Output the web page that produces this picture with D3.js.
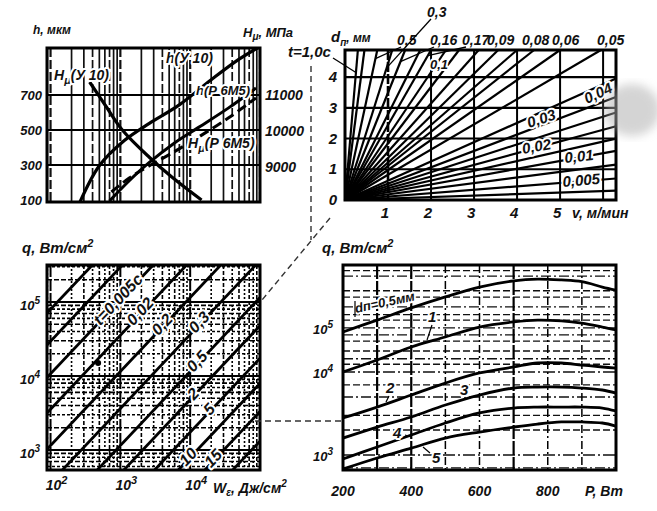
<!DOCTYPE html>
<html><head><meta charset="utf-8">
<script src="https://cdn.jsdelivr.net/npm/d3@7"></script>
<style>
body{margin:0;background:#fff}
text{font-family:"Liberation Sans Narrow","Liberation Sans",Arial,sans-serif;font-style:italic;font-weight:bold;fill:#111}
.halo{stroke:#fff;stroke-width:4px;paint-order:stroke;stroke-linejoin:round}
</style></head><body>
<svg id="c" width="657" height="511"></svg>
<script>
// ===================== DATA =====================
// Top-left panel: x = W (log, no labels); h, мкм (left) and H_μ, МПа (right)
const hTicks = [100, 300, 500, 700];
const hGrid = [300, 500, 700];
const HmuTicks = [9000, 10000, 11000];
const hU10_W = [260, 500, 1140, 2600, 6900, 20000, 49000, 94000];
const hU10 = [83, 296, 440, 538, 642, 787, 902, 971];
const HmuU10_W = [363, 632, 1067, 2575, 5460, 14550];
const HmuU10 = [11361, 10667, 10028, 9278, 8722, 8083];
const hR6M5_W = [698, 1340, 2575, 5830, 13200, 35100, 87700];
const hR6M5 = [94, 210, 313, 423, 515, 625, 740];
const HmuR6M5_W = [745, 1340, 2575, 5830, 13200, 35100, 87700];
const HmuR6M5 = [8306, 8694, 9028, 9417, 9833, 10361, 10917];

// Top-right panel: t, c vs v, м/мин; fan of lines t = k·v for various d_п
const vTicks = [1, 2, 3, 4, 5];
const vGrid = [1, 2, 3, 4, 5, 6];
const tTicks = [0, 1, 2, 3, 4];
const fanSlopes = [16.3, 10.8, 6.5, 4.44, 3.49, 2.79, 2.44, 2.08, 1.84, 1.57, 1.37, 1.22, 1.11, 0.976, 0.82,
                   0.627, 0.532, 0.452, 0.381, 0.317, 0.254, 0.183, 0.111, 0.048];
const dTopLabels = ["0,5", "0,3", "0,16", "0,17", "0,09", "0,08", "0,06", "0,05"];
const dTopLine = [2, 3, 4, 6, 10, 12, 13, 14];
const dTopLeaderT = [4.6, 4.3, 4.5, 4.7, null, null, null, null];
const dInnerLabels = ["0,1", "0,04", "0,03", "0,02", "0,01", "0,005"];

// Bottom-left panel: q, Вт/см² vs W_ε, Дж/см²; lines q = r·W for times t
const qTicksBL = [1e3, 1e4, 1e5];
const wTicks = [1e2, 1e3, 1e4];
const diagRatio = [794, 295, 107, 35.5, 11.5, 3.63, 1.15, 0.479, 0.174, 0.0794, 0.0331, 0.0132];
const diagLabels = ["", "", "t=0,005c", "0,02", "0,2", "0,3", "0,5", "2", "5", "10", "15", ""];

// Bottom-right panel: q, Вт/см² vs P, Вт for d_п
const pTicks = [200, 400, 600, 800];
const pGrid = [300, 400, 500, 600, 700, 800, 900];
const qTicksBR = [1e3, 1e4, 1e5];
const qGridBR = [700, 2e3, 3e3, 5e3, 7e3, 1.5e4, 2e4, 3e4, 5e4, 7e4, 1.5e5, 2e5, 3e5, 5e5, 7e5, 1.5e6, 2e6];
const P = [200, 300, 400, 500, 600, 700, 770, 840, 900, 960, 1000];
const q05 = [81100, 151000, 285000, 507000, 851000, 1175000, 1288000, 1230000, 1122000, 851000, 724000];
const q1 = [10000, 18700, 37000, 62400, 105000, 137000, 151000, 145000, 129000, 105000, 90200];
const q2 = [2790, 3780, 5280, 7360, 9730, 13000, 16000, 16000, 14400, 13000, 12300];
const q3 = [1600, 2170, 2870, 4000, 5280, 6410, 6590, 6590, 6410, 6070, 5580];
const q4 = [895, 1250, 1740, 2430, 3210, 3680, 3780, 3780, 3780, 3680, 3390];
const q5 = [678, 920, 1210, 1600, 1890, 2170, 2360, 2500, 2500, 2430, 2230];
const brSeries = [q05, q1, q2, q3, q4, q5];
const brLabels = ["d\u043f=0,5\u043c\u043c", "1", "2", "3", "4", "5"];

// ===================== DRAW =====================
const svg = d3.select("#c");
const defs = svg.append("defs");
defs.append("filter").attr("id", "blur").append("feGaussianBlur").attr("stdDeviation", 5);

function txt(g, x, y, s, o = {}) {
  const t = g.append("text").attr("x", x).attr("y", y)
    .attr("font-size", o.size || 14).attr("text-anchor", o.anchor || "start");
  if (o.halo) t.attr("class", "halo");
  if (o.rot) t.attr("transform", `rotate(${o.rot},${x},${y})`);
  if (o.weight) t.style("font-weight", o.weight);
  t.text(s);
  return t;
}
function pow10(g, x, y, exp, o = {}) {
  const t = g.append("text").attr("x", x).attr("y", y).attr("font-size", o.size || 14)
    .attr("text-anchor", o.anchor || "middle");
  t.append("tspan").text("10");
  t.append("tspan").attr("dy", -6).attr("font-size", (o.size || 14) - 3).text(exp);
  return t;
}
function clip(id, x0, y0, x1, y1) {
  defs.append("clipPath").attr("id", id).append("rect")
    .attr("x", x0).attr("y", y0).attr("width", x1 - x0).attr("height", y1 - y0);
}
function frame(g, x0, y0, x1, y1) {
  g.append("rect").attr("x", x0).attr("y", y0).attr("width", x1 - x0).attr("height", y1 - y0)
    .attr("fill", "none").attr("stroke", "#000").attr("stroke-width", 3);
}

// ---------- shared W scale (top-left & bottom-left) ----------
const xW = d3.scaleLog().domain([89, 1e5]).range([47, 260]);

// ---------- TOP-LEFT ----------
{
  const g = svg.append("g");
  const x0 = 47, x1 = 260, y0 = 48, y1 = 202;
  const yH = d3.scaleLinear().domain([100, 700]).range([200, 95]);
  const yHm = d3.scaleLinear().domain([9000, 11000]).range([167, 95]);
  clip("ctl", x0, y0, x1, y1);
  const gg = g.append("g").attr("clip-path", "url(#ctl)");
  xW.ticks().forEach((w, i) => {
    gg.append("line").attr("x1", xW(w)).attr("x2", xW(w)).attr("y1", y0).attr("y2", y1)
      .attr("stroke", "#111").attr("stroke-width", Math.log10(w) % 1 === 0 ? 2.2 : 1.7)
      .attr("stroke-dasharray", i % 3 === 1 ? "9,3" : null);
  });
  hGrid.forEach(h => gg.append("line").attr("x1", x0).attr("x2", x1).attr("y1", yH(h)).attr("y2", yH(h))
    .attr("stroke", "#000").attr("stroke-width", 2));
  frame(g, x0, y0, x1, y1);
  hTicks.forEach(h => txt(g, 42, yH(h) + 5, h, { anchor: "end", size: 13 }));
  HmuTicks.forEach(h => txt(g, 265, yHm(h) + 5, h, { size: 14 }));
  txt(g, 33, 34, "h, \u043c\u043a\u043c", { size: 12 });
  const th = txt(g, 243, 37, "", { size: 13 });
  th.append("tspan").text("H");
  th.append("tspan").attr("dy", 3).attr("font-size", 10).text("\u03bc");
  th.append("tspan").attr("dy", -3).text(", \u041c\u041f\u0430");

  const ln = (xs, ys, ys_scale) => d3.line().curve(d3.curveCatmullRom)
    .x((d, i) => xW(xs[i])).y(d => ys_scale(d))(ys);
  gg.append("path").attr("d", ln(hU10_W, hU10, yH)).attr("fill", "none").attr("stroke", "#000").attr("stroke-width", 3.2);
  gg.append("path").attr("d", ln(HmuU10_W, HmuU10, yHm)).attr("fill", "none").attr("stroke", "#000").attr("stroke-width", 3.2);
  gg.append("path").attr("d", ln(hR6M5_W, hR6M5, yH)).attr("fill", "none").attr("stroke", "#000").attr("stroke-width", 3);
  gg.append("path").attr("d", ln(HmuR6M5_W, HmuR6M5, yHm)).attr("fill", "none").attr("stroke", "#000")
    .attr("stroke-width", 3).attr("stroke-dasharray", "10,5");

  const lab = (x, y, main, sub, rest, size) => {
    const t = g.append("text").attr("x", x).attr("y", y).attr("font-size", size).attr("class", "halo");
    t.append("tspan").text(main);
    if (sub) { t.append("tspan").attr("dy", 4).attr("font-size", size - 3).text(sub); t.append("tspan").attr("dy", -4).text(rest); }
    else t.append("tspan").text(rest);
  };
  lab(166, 63, "h", null, "(\u0423 10)", 14);
  lab(54, 80, "H", "\u03bc", "(\u0423 10)", 14);
  lab(196, 95, "h", null, "(\u0420 6\u041c5)", 13);
  lab(188, 148, "H", "\u03bc", "(\u0420 6\u041c5)", 14);
}

// ---------- TOP-RIGHT ----------
{
  const g = svg.append("g");
  const x0 = 345, x1 = 616, y0 = 50, y1 = 200;
  const xV = d3.scaleLinear().domain([0, 6.3]).range([x0, x1]);
  const yT = d3.scaleLinear().domain([0, 4.88]).range([y1, y0]);
  const vMax = xV.domain()[1], tMax = yT.domain()[1];
  vGrid.forEach(v => g.append("line").attr("x1", xV(v)).attr("x2", xV(v)).attr("y1", y0).attr("y2", y1)
    .attr("stroke", "#000").attr("stroke-width", v === 1 ? 2.6 : 2).attr("stroke-dasharray", v === 1 ? "10,2" : null));
  tTicks.slice(1).forEach(t => g.append("line").attr("x1", x0).attr("x2", x1).attr("y1", yT(t)).attr("y2", yT(t))
    .attr("stroke", "#000").attr("stroke-width", 2.2));
  fanSlopes.forEach(k => {
    const end = k * vMax <= tMax ? [vMax, k * vMax] : [tMax / k, tMax];
    g.append("line").attr("x1", xV(0)).attr("y1", yT(0)).attr("x2", xV(end[0])).attr("y2", yT(end[1]))
      .attr("stroke", "#000").attr("stroke-width", 2.2);
  });
  frame(g, x0, y0, x1, y1);
  tTicks.forEach(t => txt(g, 337, yT(t) + 5, t, { anchor: "end", size: 15 }));
  vTicks.forEach(v => txt(g, xV(v) - 3, 218, v, { anchor: "middle", size: 15 }));
  txt(g, 572, 218, "v, \u043c/\u043c\u0438\u043d", { size: 14 });
  const dl = g.append("text").attr("x", 331).attr("y", 42).attr("font-size", 15);
  dl.append("tspan").text("d");
  dl.append("tspan").attr("dy", 4).attr("font-size", 10).text("\u043f");
  dl.append("tspan").attr("dy", -4).attr("font-size", 12).text(", \u043c\u043c");
  txt(g, 288, 57, "t=1,0c", { size: 15 });
  g.append("line").attr("x1", 333).attr("y1", 58).attr("x2", xV(tMax / fanSlopes[0] * 0.85)).attr("y2", yT(tMax * 0.85))
    .attr("stroke", "#000").attr("stroke-width", 1.3);

  const topPos = [[397, 45], [427, 17], [430, 45], [462, 45], [487, 45], [522, 45], [552, 45], [597, 45]];
  dTopLabels.forEach((s, i) => {
    txt(g, topPos[i][0], topPos[i][1], s, { size: 14 });
    const tt = dTopLeaderT[i];
    if (tt != null) {
      const k = fanSlopes[dTopLine[i]];
      g.append("line").attr("x1", topPos[i][0] + 4).attr("y1", topPos[i][1] + 2)
        .attr("x2", xV(tt / k)).attr("y2", yT(tt)).attr("stroke", "#000").attr("stroke-width", 1.3);
    }
  });
  const innerPos = [[430, 69, 0], [587, 104, -25], [529, 128, -18], [523, 154, -10], [565, 163, -6], [563, 187, -5]];
  dInnerLabels.forEach((s, i) => txt(g, innerPos[i][0], innerPos[i][1], s,
    { size: i === 0 ? 13 : 15, halo: true, rot: innerPos[i][2], weight: 900 }));
}

// ---------- BOTTOM-LEFT ----------
{
  const g = svg.append("g");
  const x0 = 47, x1 = 260, y0 = 265, y1 = 470;
  const yQ = d3.scaleLog().domain([537, 316000]).range([y1, y0]);
  clip("cbl", x0, y0, x1, y1);
  const gg = g.append("g").attr("clip-path", "url(#cbl)");
  xW.ticks().forEach((w, i) => {
    const major = Math.abs(Math.log10(w) % 1) < 1e-9;
    gg.append("line").attr("x1", xW(w)).attr("x2", xW(w)).attr("y1", y0).attr("y2", y1)
      .attr("stroke", "#000").attr("stroke-width", major ? 2 : 1.6).attr("stroke-dasharray", major ? "12,2" : (i % 2 ? "4,2" : "2,2"));
  });
  yQ.ticks().forEach((q, i) => {
    const major = Math.abs(Math.log10(q) % 1) < 1e-9;
    gg.append("line").attr("x1", x0).attr("x2", x1).attr("y1", yQ(q)).attr("y2", yQ(q))
      .attr("stroke", "#000").attr("stroke-width", major ? 2.2 : 1.6).attr("stroke-dasharray", major ? null : (i % 2 ? "5,2" : "3,2"));
  });
  const wd = xW.domain();
  diagRatio.forEach(r => gg.append("line").attr("x1", xW(wd[0])).attr("y1", yQ(wd[0] * r))
    .attr("x2", xW(wd[1])).attr("y2", yQ(wd[1] * r)).attr("stroke", "#000").attr("stroke-width", 2.8));
  frame(g, x0, y0, x1, y1);
  const labelX = [0, 0, 122, 144, 166, 203, 201, 197, 213, 192, 217, 0];
  diagRatio.forEach((r, i) => {
    if (!diagLabels[i]) return;
    const w = xW.invert(labelX[i]);
    const y = yQ(r * w);
    const ang = Math.atan2(yQ(r * w * 10) - y, xW(w * 10) - labelX[i]) * 180 / Math.PI;
    txt(g, labelX[i], y + 5, diagLabels[i], { anchor: "middle", size: 16, halo: true, rot: ang });
  });
  g.append("circle").attr("cx", xW(480)).attr("cy", yQ(1.5e4)).attr("r", 3).attr("fill", "#000");
  qTicksBL.forEach((q, i) => pow10(g, 30, yQ(q) + 8, 3 + i, { size: 13 }).attr("fill", i === 2 ? "#777" : "#333"));
  wTicks.forEach((w, i) => pow10(g, xW(w) + 6, 490, 2 + i, { size: 14 }));
  const wl = g.append("text").attr("x", 213).attr("y", 493).attr("font-size", 14);
  wl.append("tspan").text("W");
  wl.append("tspan").attr("dy", 3).attr("font-size", 10).text("\u03b5");
  wl.append("tspan").attr("dy", -3).text(", \u0414\u0436/\u0441\u043c");
  wl.append("tspan").attr("dy", -6).attr("font-size", 10).text("2");
  const ql = g.append("text").attr("x", 22).attr("y", 253).attr("font-size", 15);
  ql.append("tspan").text("q, \u0412\u0442/\u0441\u043c");
  ql.append("tspan").attr("dy", -6).attr("font-size", 11).text("2");
}

// ---------- BOTTOM-RIGHT ----------
{
  const g = svg.append("g");
  const x0 = 343, x1 = 616, y0 = 265, y1 = 470;
  const xP = d3.scaleLinear().domain([200, 1000]).range([x0, x1]);
  const yQ2 = d3.scaleLog().domain([661, 1e3, 1e4, 2691535]).range([y1, 455, 372, y0]);
  clip("cbr", x0, y0, x1, y1);
  const gg = g.append("g").attr("clip-path", "url(#cbr)");
  qGridBR.forEach((q, i) => gg.append("line").attr("x1", x0).attr("x2", x1).attr("y1", yQ2(q)).attr("y2", yQ2(q))
    .attr("stroke", "#111").attr("stroke-width", 1.3).attr("stroke-dasharray", i % 3 === 0 ? "10,3,2,3" : "7,3"));
  qTicksBR.forEach(q => gg.append("line").attr("x1", x0).attr("x2", x1).attr("y1", yQ2(q)).attr("y2", yQ2(q))
    .attr("stroke", "#111").attr("stroke-width", 1.3).attr("stroke-dasharray", "12,3,2,3"));
  pGrid.forEach(p => {
    const solid = p === 300 || p === 400 || p === 700;
    gg.append("line").attr("x1", xP(p)).attr("x2", xP(p)).attr("y1", y0).attr("y2", y1)
      .attr("stroke", "#000").attr("stroke-width", solid ? 2.2 : 1.5).attr("stroke-dasharray", solid ? "14,2" : "8,3,2,3");
  });
  const ln = d3.line().curve(d3.curveCatmullRom).x((d, i) => xP(P[i])).y(d => yQ2(d));
  brSeries.forEach(s => gg.append("path").attr("d", ln(s)).attr("fill", "none").attr("stroke", "#000").attr("stroke-width", 2.8));
  frame(g, x0, y0, x1, y1);
  qTicksBR.forEach((q, i) => pow10(g, 323, yQ2(q) + 6, 3 + i, { size: 13 }).attr("fill", "#333"));
  pTicks.forEach(p => txt(g, xP(p), 496, p, { anchor: "middle", size: 14 }));
  txt(g, 585, 496, "P, \u0412\u0442", { size: 14 });
  const ql = g.append("text").attr("x", 322).attr("y", 253).attr("font-size", 15);
  ql.append("tspan").text("q, \u0412\u0442/\u0441\u043c");
  ql.append("tspan").attr("dy", -6).attr("font-size", 11).text("2");
  const labPos = [[356, 313, -12, 13], [428, 322, 0, 15], [386, 393, 0, 15], [460, 395, 0, 15], [393, 438, 0, 15], [432, 463, 0, 15]];
  brLabels.forEach((s, i) => txt(g, labPos[i][0], labPos[i][1], s, { size: labPos[i][3], rot: labPos[i][2], halo: true }));
  const leaders = [[432, 325, 427, 340], [389, 396, 386, 402], [405, 435, 411, 437], [430, 453, 423, 447], [355, 301, 355, 317]];
  leaders.forEach(d => g.append("line").attr("x1", d[0]).attr("y1", d[1]).attr("x2", d[2]).attr("y2", d[3])
    .attr("stroke", "#000").attr("stroke-width", 1.2));
}

// ---------- connecting guide lines & scan smudge ----------
const guide = [[311, 66, 311, 240], [330, 218, 262, 300], [255, 421, 343, 421]];
guide.forEach(d => svg.append("line").attr("x1", d[0]).attr("y1", d[1]).attr("x2", d[2]).attr("y2", d[3])
  .attr("stroke", "#333").attr("stroke-width", 1.4).attr("stroke-dasharray", "6,4"));
svg.append("ellipse").attr("cx", 632).attr("cy", 110).attr("rx", 28).attr("ry", 26)
  .attr("fill", "#aaa").attr("opacity", 0.5).attr("filter", "url(#blur)");
</script></body></html>
